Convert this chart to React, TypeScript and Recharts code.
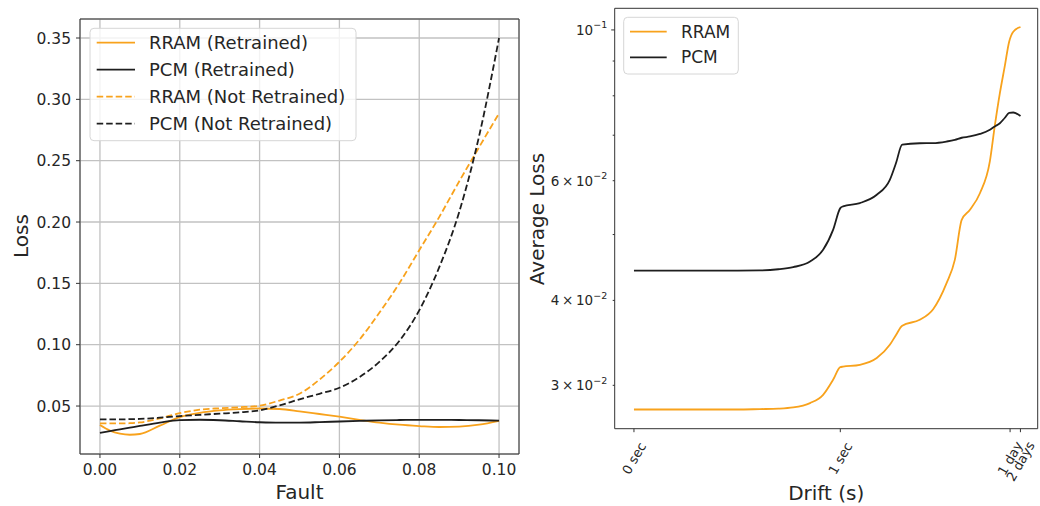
import React from "react";
import { LineChart, Line, XAxis, YAxis, CartesianGrid, ReferenceArea } from "recharts";

const FONT = "'DejaVu Sans', sans-serif";
const TEXT = "#262626";
const SPINE = "#333333";
const ORANGE = "#f8a21c";
const DARK = "#1e1e1e";

// ---- left panel: loss vs fault rate
const faultRates = [0, 0.0025, 0.005, 0.0075, 0.01, 0.015, 0.02, 0.025, 0.03, 0.035, 0.04, 0.045, 0.05, 0.055, 0.06, 0.065, 0.07, 0.075, 0.08, 0.085, 0.09, 0.095, 0.1];
const rramRetrained = [0.0345, 0.030, 0.0275, 0.0266, 0.0272, 0.034, 0.041, 0.0445, 0.0465, 0.0475, 0.048, 0.0476, 0.0457, 0.0435, 0.0413, 0.0388, 0.0365, 0.0348, 0.0337, 0.0329, 0.0332, 0.0348, 0.038];
const pcmRetrained = [0.0282, 0.0296, 0.031, 0.0324, 0.0338, 0.0365, 0.0385, 0.0388, 0.0384, 0.0376, 0.0368, 0.0364, 0.0365, 0.0369, 0.0374, 0.0379, 0.0383, 0.0386, 0.0387, 0.0387, 0.0386, 0.0384, 0.0381];
const rramNotRetrained = [0.0359, 0.0358, 0.0358, 0.036, 0.0366, 0.040, 0.0442, 0.047, 0.0482, 0.049, 0.0503, 0.0545, 0.060, 0.0715, 0.0861, 0.104, 0.126, 0.150, 0.177, 0.204, 0.233, 0.261, 0.2886];
const pcmNotRetrained = [0.0391, 0.0391, 0.0391, 0.0393, 0.0395, 0.0405, 0.0418, 0.0428, 0.0438, 0.0448, 0.0465, 0.0505, 0.0555, 0.060, 0.0649, 0.0735, 0.086, 0.103, 0.128, 0.163, 0.208, 0.27, 0.35];
const faultTicks = [0, 0.02, 0.04, 0.06, 0.08, 0.1];
const lossTicks = [0.05, 0.1, 0.15, 0.2, 0.25, 0.3, 0.35];

const leftSeries = [
  { key: "rramRt", name: "RRAM (Retrained)", color: ORANGE, dash: undefined as string | undefined },
  { key: "pcmRt", name: "PCM (Retrained)", color: DARK, dash: undefined as string | undefined },
  { key: "rramNrt", name: "RRAM (Not Retrained)", color: ORANGE, dash: "6.5 3" },
  { key: "pcmNrt", name: "PCM (Not Retrained)", color: DARK, dash: "6.5 3" },
];

// ---- right panel: average loss vs drift time
// drift is kept as position on the (symlog-like) time axis, in decades
const driftPos = [0, 1, 2, 3, 3.66, 4.2, 4.63, 5.12, 5.5, 5.79, 6.0, 6.08, 6.57, 7.06, 7.44, 7.62, 7.8, 8.31, 8.7, 9.09, 9.33, 9.53, 9.77, 10.06, 10.35, 10.49, 10.64, 10.78, 10.91, 11.03, 11.24];
const rramDrift = [0.02764, 0.02764, 0.02764, 0.02764, 0.02768, 0.02772, 0.02783, 0.02825, 0.02905, 0.03057, 0.03191, 0.03196, 0.03216, 0.0329, 0.03441, 0.03558, 0.0367, 0.03746, 0.03883, 0.04241, 0.04588, 0.05255, 0.05437, 0.05751, 0.0641, 0.0721, 0.0807, 0.0883, 0.0961, 0.0994, 0.101];
const pcmDrift = [0.04426, 0.04426, 0.04426, 0.04426, 0.04428, 0.04445, 0.04477, 0.04563, 0.04747, 0.05079, 0.05467, 0.055, 0.05562, 0.05721, 0.06017, 0.0637, 0.0678, 0.06812, 0.06815, 0.06852, 0.0689, 0.0694, 0.0697, 0.0703, 0.0713, 0.0721, 0.0729, 0.0742, 0.0755, 0.0756, 0.0747];
const driftTicks = [0, 6, 10.937, 11.238];
const driftTickLabels = ["0 sec", "1 sec", "1 day", "2 days"];
const avgLossTicks = [0.03, 0.04, 0.05, 0.06, 0.07, 0.08, 0.09, 0.1];
const avgLossLabels: Record<string, [string, string]> = {
  "0.03": ["3\u2009×\u200910", "−2"],
  "0.04": ["4\u2009×\u200910", "−2"],
  "0.06": ["6\u2009×\u200910", "−2"],
  "0.1": ["10", "−1"],
};
const rightSeries = [
  { key: "rram", name: "RRAM", color: ORANGE },
  { key: "pcm", name: "PCM", color: DARK },
];

const leftData = faultRates.map((f, i) => ({
  fault: f,
  rramRt: rramRetrained[i],
  pcmRt: pcmRetrained[i],
  rramNrt: rramNotRetrained[i],
  pcmNrt: pcmNotRetrained[i],
}));

const rightData = driftPos.map((d, i) => ({ drift: d, rram: rramDrift[i], pcm: pcmDrift[i] }));

function DriftTick(props: any) {
  const { x, y, payload } = props;
  const label = driftTickLabels[driftTicks.indexOf(payload.value)] ?? "";
  const fs = 13;
  const len = label.length * 0.54 * fs;
  const vert = len * Math.sin(Math.PI / 3) + 0.73 * fs * 0.5;
  const cy = y + 12 + vert / 2;
  return (
    <g>
      <line x1={x} x2={x} y1={y} y2={y + 3.5} stroke={SPINE} strokeWidth={1} />
      <text x={x} y={cy} dy="0.36em" textAnchor="middle" fontSize={fs} fill={TEXT} fontFamily={FONT}
        transform={`rotate(-60 ${x} ${cy})`}>
        {label}
      </text>
    </g>
  );
}

function AvgLossTick(props: any) {
  const { x, y, payload } = props;
  const lab = avgLossLabels[String(payload.value)];
  const major = payload.value === 0.1;
  return (
    <g>
      <line x1={x - (major ? 3.5 : 2)} x2={x} y1={y} y2={y} stroke={SPINE} strokeWidth={1} />
      {lab && (
        <text x={x - 7.5} y={y} dy="0.36em" textAnchor="end" fontSize={13.5} fill={TEXT} fontFamily={FONT}>
          {lab[0]}
          <tspan dy={-6.5} fontSize={9.5}>{lab[1]}</tspan>
        </text>
      )}
    </g>
  );
}

export default function App() {
  const tickStyle = { fill: TEXT, fontSize: 15.5, fontFamily: FONT };
  return (
    <div style={{ position: "absolute", left: 0, top: 0, width: 1040, height: 506, background: "#fff" }}>
      <div style={{ position: "absolute", left: 0, top: 0 }}>
        <LineChart width={520} height={506} data={leftData} margin={{ top: 19, right: 1, bottom: 0, left: 0 }}>
          <CartesianGrid stroke="#c2c2c2" strokeWidth={1.3} />
          <XAxis
            type="number"
            dataKey="fault"
            domain={[-0.005, 0.105]}
            ticks={faultTicks}
            allowDataOverflow
            height={52}
            axisLine={false}
            tickLine={{ stroke: SPINE }}
            tickSize={4}
            tickMargin={6}
            tick={tickStyle}
            tickFormatter={(v: number) => v.toFixed(2)}
            label={{ value: "Fault", position: "insideBottom", offset: 7, fill: TEXT, fontSize: 20, fontFamily: FONT }}
          />
          <YAxis
            type="number"
            domain={[0.0109, 0.3655]}
            ticks={lossTicks}
            allowDataOverflow
            width={80}
            axisLine={false}
            tickLine={{ stroke: SPINE }}
            tickSize={4}
            tickMargin={5}
            tick={tickStyle}
            tickFormatter={(v: number) => v.toFixed(2)}
            label={{
              content: () => (
                <text x={27.7} y={236} textAnchor="middle" fontSize={20} fill={TEXT} fontFamily={FONT}
                  transform="rotate(-90 27.7 236)">
                  Loss
                </text>
              ),
            }}
          />
          <ReferenceArea x1={-0.005} x2={0.105} y1={0.0109} y2={0.3655} fill="none" stroke={SPINE} strokeWidth={1} ifOverflow="visible" />
          {leftSeries.map((s) => (
            <Line
              key={s.key}
              type="monotone"
              dataKey={s.key}
              stroke={s.color}
              strokeWidth={1.8}
              strokeDasharray={s.dash}
              dot={false}
              isAnimationActive={false}
            />
          ))}
        </LineChart>
        <svg width={520} height={506} style={{ position: "absolute", left: 0, top: 0, pointerEvents: "none" }}>
          <rect x={90} y={28.3} width={266} height={112.4} rx={4} fill="rgba(255,255,255,0.8)" stroke="#d6d6d6" />
          {leftSeries.map((s, i) => {
            const cy = 42.7 + i * 27;
            return (
              <g key={s.key}>
                <line x1={96.7} x2={135} y1={cy} y2={cy} stroke={s.color} strokeWidth={1.8} strokeDasharray={s.dash} />
                <text x={149} y={cy} dy="0.36em" fontSize={18} fill={TEXT} fontFamily={FONT}>{s.name}</text>
              </g>
            );
          })}
        </svg>
      </div>

      <div style={{ position: "absolute", left: 520, top: 0 }}>
        <LineChart width={520} height={506} data={rightData} margin={{ top: 8.3, right: 2.3, bottom: 0, left: 0 }}>
          <XAxis
            type="number"
            dataKey="drift"
            domain={[-0.56, 11.74]}
            ticks={driftTicks}
            allowDataOverflow
            height={77.3}
            axisLine={false}
            tickLine={false}
            tickSize={0}
            tickMargin={0}
            tick={<DriftTick />}
            interval={0}
            label={{ value: "Drift (s)", position: "insideBottom", offset: 6, fill: TEXT, fontSize: 20, fontFamily: FONT }}
          />
          <YAxis
            type="number"
            scale="log"
            domain={[0.0259, 0.1076]}
            ticks={avgLossTicks}
            allowDataOverflow
            width={94.7}
            axisLine={false}
            tickLine={false}
            tickSize={0}
            tickMargin={0}
            tick={<AvgLossTick />}
            interval={0}
            label={{
              content: () => (
                <text x={23.5} y={219} textAnchor="middle" fontSize={20} fill={TEXT} fontFamily={FONT}
                  transform="rotate(-90 23.5 219)">
                  Average Loss
                </text>
              ),
            }}
          />
          <ReferenceArea x1={-0.56} x2={11.74} y1={0.0259} y2={0.1076} fill="none" stroke={SPINE} strokeWidth={1} ifOverflow="visible" />
          {rightSeries.map((s) => (
            <Line
              key={s.key}
              type="monotone"
              dataKey={s.key}
              stroke={s.color}
              strokeWidth={1.8}
              dot={false}
              isAnimationActive={false}
            />
          ))}
        </LineChart>
        <svg width={520} height={506} style={{ position: "absolute", left: 0, top: 0, pointerEvents: "none" }}>
          <rect x={103.7} y={17.3} width={114.6} height={56.7} rx={4} fill="rgba(255,255,255,0.8)" stroke="#d6d6d6" />
          {rightSeries.map((s, i) => {
            const cy = 31.7 + i * 25.6;
            return (
              <g key={s.key}>
                <line x1={110} x2={146.7} y1={cy} y2={cy} stroke={s.color} strokeWidth={1.8} />
                <text x={161} y={cy} dy="0.36em" fontSize={17} fill={TEXT} fontFamily={FONT}>{s.name}</text>
              </g>
            );
          })}
        </svg>
      </div>
    </div>
  );
}
